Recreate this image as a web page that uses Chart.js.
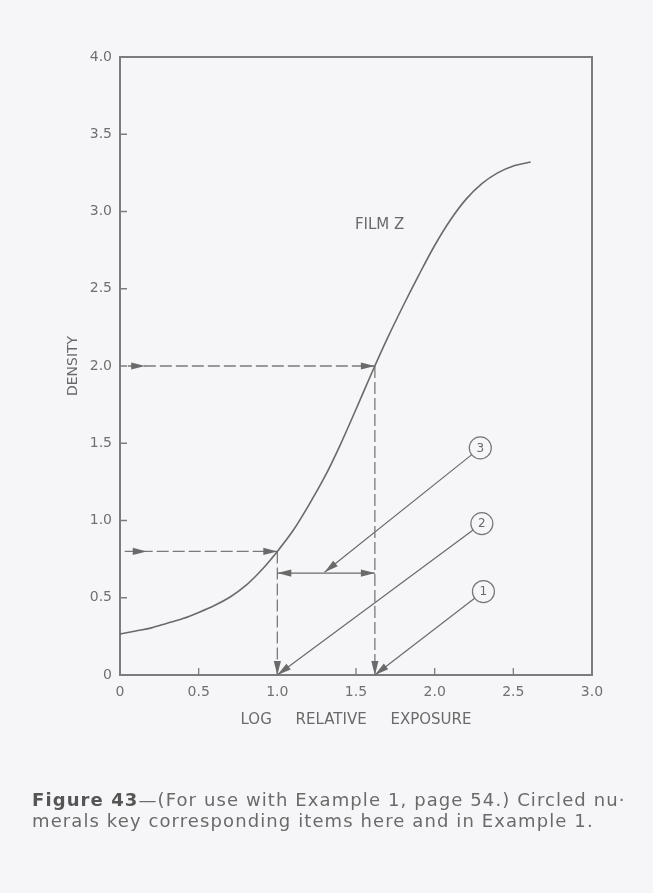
<!DOCTYPE html>
<html>
<head>
<meta charset="utf-8">
<script src="https://cdn.jsdelivr.net/npm/chart.js@4"></script>
<style>
html, body { margin: 0; padding: 0; background: #f6f6f8; }
#wrap { position: relative; width: 653px; height: 893px; }
#c { position: absolute; left: 0; top: 0; }
#caption {
    position: absolute; left: 32px; top: 789px;
    font-family: "DejaVu Sans"; font-size: 18px; line-height: 21px; letter-spacing: 1.1px;
    color: #6a6a6a; white-space: nowrap;
}
#caption b { color: #555; }
</style>
</head>
<body>
<div id="wrap">
<canvas id="c" width="653" height="893"></canvas>
<div id="caption"><b>Figure 43</b>—(For use with Example 1, page 54.) Circled nu·<br>merals key corresponding items here and in Example 1.</div>
</div>
<script>
// karakteristik eğri (Film Z)
const logExposure = [0, 0.1, 0.2, 0.3, 0.4, 0.5, 0.6, 0.7, 0.8, 0.9, 1.0, 1.1, 1.2, 1.3, 1.4, 1.5, 1.6, 1.7, 1.8, 1.9, 2.0, 2.1, 2.2, 2.3, 2.4, 2.5, 2.61];
const density     = [0.265, 0.285, 0.305, 0.335, 0.365, 0.405, 0.45, 0.505, 0.58, 0.68, 0.80, 0.935, 1.10, 1.28, 1.49, 1.72, 1.955, 2.18, 2.39, 2.59, 2.78, 2.945, 3.08, 3.18, 3.25, 3.295, 3.32];

// kesikli yardımcı çizgiler: [başlangıç, ok ucu, bitiş] noktaları
const guideHigh  = [{x: 0.05, y: 2.0}, {x: 0.16, y: 2.0}, {x: 1.62, y: 2.0}];
const guideLow   = [{x: 0.03, y: 0.8}, {x: 0.17, y: 0.8}, {x: 1.0, y: 0.8}];
const dropLow    = [{x: 1.0, y: 0.8}, {x: 1.0, y: 0}];
const dropHigh   = [{x: 1.62, y: 2.0}, {x: 1.62, y: 0}];
const spanArrow  = [{x: 1.0, y: 0.66}, {x: 1.62, y: 0.66}];

// numaralı işaretler ve gösterdikleri yer
const markerNames = ["1", "2", "3"];
const markerPos   = [{x: 2.31, y: 0.54}, {x: 2.30, y: 0.98}, {x: 2.29, y: 1.47}];
const markerTips  = [{x: 1.62, y: 0}, {x: 1.0, y: 0}, {x: 1.30, y: 0.665}];

const xTicks = [0, 0.5, 1.0, 1.5, 2.0, 2.5, 3.0];
const yTicks = [0, 0.5, 1.0, 1.5, 2.0, 2.5, 3.0, 3.5, 4.0];

const notes = [{text: "FILM Z", x: 1.65, y: 2.91}];

const ink = "#6a6a6a";
const paper = "#f6f6f8";
const fontFam = "'DejaVu Sans', sans-serif";

function tickText(v) {
    return v === 0 ? "0" : v.toFixed(1);
}

// çerçeve + içe dönük tik çizgileri
const framePlugin = {
    id: "frame",
    beforeDatasetsDraw(chart) {
        const {ctx, chartArea: a, scales} = chart;
        ctx.save();
        ctx.strokeStyle = "#7c7c7c";
        ctx.lineWidth = 2;
        ctx.strokeRect(a.left, a.top, a.right - a.left, a.bottom - a.top);
        ctx.lineWidth = 1.3;
        ctx.beginPath();
        xTicks.slice(1, -1).forEach(v => {
            const px = scales.x.getPixelForValue(v);
            ctx.moveTo(px, a.bottom);
            ctx.lineTo(px, a.bottom - 7);
        });
        yTicks.slice(1, -1).forEach(v => {
            const py = scales.y.getPixelForValue(v);
            ctx.moveTo(a.left, py);
            ctx.lineTo(a.left + 7, py);
        });
        ctx.stroke();
        ctx.restore();
    }
};

// ok uçları: arrowAt içindeki noktalara çiziliyor
const arrowPlugin = {
    id: "arrows",
    afterDatasetsDraw(chart) {
        const ctx = chart.ctx;
        chart.data.datasets.forEach((ds, i) => {
            if (!ds.arrowAt) return;
            const pts = chart.getDatasetMeta(i).data;
            ds.arrowAt.forEach(k => {
                const tip = pts[k];
                const from = k > 0 ? pts[k - 1] : pts[1];
                const ang = Math.atan2(tip.y - from.y, tip.x - from.x);
                const len = 14, half = 3.6;
                ctx.save();
                ctx.translate(tip.x, tip.y);
                ctx.rotate(ang);
                ctx.fillStyle = ink;
                ctx.beginPath();
                ctx.moveTo(0, 0);
                ctx.lineTo(-len, -half);
                ctx.lineTo(-len, half);
                ctx.closePath();
                ctx.fill();
                ctx.restore();
            });
        });

        // daire içindeki rakamlar ve metin
        const {x, y} = chart.scales;
        ctx.save();
        ctx.fillStyle = ink;
        ctx.textAlign = "center";
        ctx.textBaseline = "middle";
        ctx.font = "12px " + fontFam;
        markerPos.forEach((p, k) => {
            ctx.fillText(markerNames[k], x.getPixelForValue(p.x), y.getPixelForValue(p.y) + 0.5);
        });
        ctx.font = "15px " + fontFam;
        notes.forEach(n => ctx.fillText(n.text, x.getPixelForValue(n.x), y.getPixelForValue(n.y)));
        ctx.restore();
    }
};

const dashed = {borderColor: "#7a7a7a", borderWidth: 1.3, borderDash: [12, 4], pointRadius: 0, showLine: true, clip: false, order: 1};

const datasets = [
    {
        label: "Film Z",
        data: logExposure.map((v, i) => ({x: v, y: density[i]})),
        borderColor: ink, borderWidth: 1.6, pointRadius: 0, showLine: true,
        cubicInterpolationMode: "monotone", clip: false, order: 1
    },
    Object.assign({data: guideHigh, arrowAt: [1, 2]}, dashed),
    Object.assign({data: guideLow, arrowAt: [1, 2]}, dashed),
    Object.assign({data: dropLow, arrowAt: [1]}, dashed),
    Object.assign({data: dropHigh, arrowAt: [1]}, dashed),
    {data: spanArrow, arrowAt: [0, 1], borderColor: ink, borderWidth: 1.3, pointRadius: 0, showLine: true, clip: false, order: 1}
];

markerPos.forEach((p, k) => {
    datasets.push({data: [p, markerTips[k]], arrowAt: [1], borderColor: ink, borderWidth: 1.2, pointRadius: 0, showLine: true, clip: false, order: 1});
});

datasets.push({
    data: markerPos, showLine: false, pointRadius: 11, pointBorderWidth: 1.2,
    pointBackgroundColor: paper, pointBorderColor: "#777", clip: false, order: 0
});

new Chart(document.getElementById("c").getContext("2d"), {
    type: "scatter",
    data: {datasets},
    options: {
        responsive: false,
        animation: false,
        events: [],
        layout: {padding: {left: 56, top: 57, right: 61, bottom: 163}},
        plugins: {legend: {display: false}, tooltip: {enabled: false}},
        scales: {
            x: {
                type: "linear", min: 0, max: 3,
                grid: {display: false, drawTicks: false}, border: {display: false},
                ticks: {stepSize: 0.5, padding: 9, color: "#707070", font: {family: fontFam, size: 14}, callback: tickText},
                title: {display: true, text: "LOG     RELATIVE     EXPOSURE", color: "#6a6a6a", font: {family: fontFam, size: 15}, padding: {top: 0, bottom: 1}},
                afterFit(s) { s.height = 55; s.paddingLeft = 0; s.paddingRight = 0; }
            },
            y: {
                type: "linear", min: 0, max: 4,
                grid: {display: false, drawTicks: false}, border: {display: false},
                ticks: {stepSize: 0.5, padding: 8, color: "#707070", font: {family: fontFam, size: 14}, callback: tickText},
                title: {display: true, text: "DENSITY", color: "#6a6a6a", font: {family: fontFam, size: 14}, padding: {top: 9, bottom: 0}},
                afterFit(s) { s.width = 64; s.paddingTop = 0; s.paddingBottom = 0; }
            }
        }
    },
    plugins: [framePlugin, arrowPlugin]
});
</script>
</body>
</html>
